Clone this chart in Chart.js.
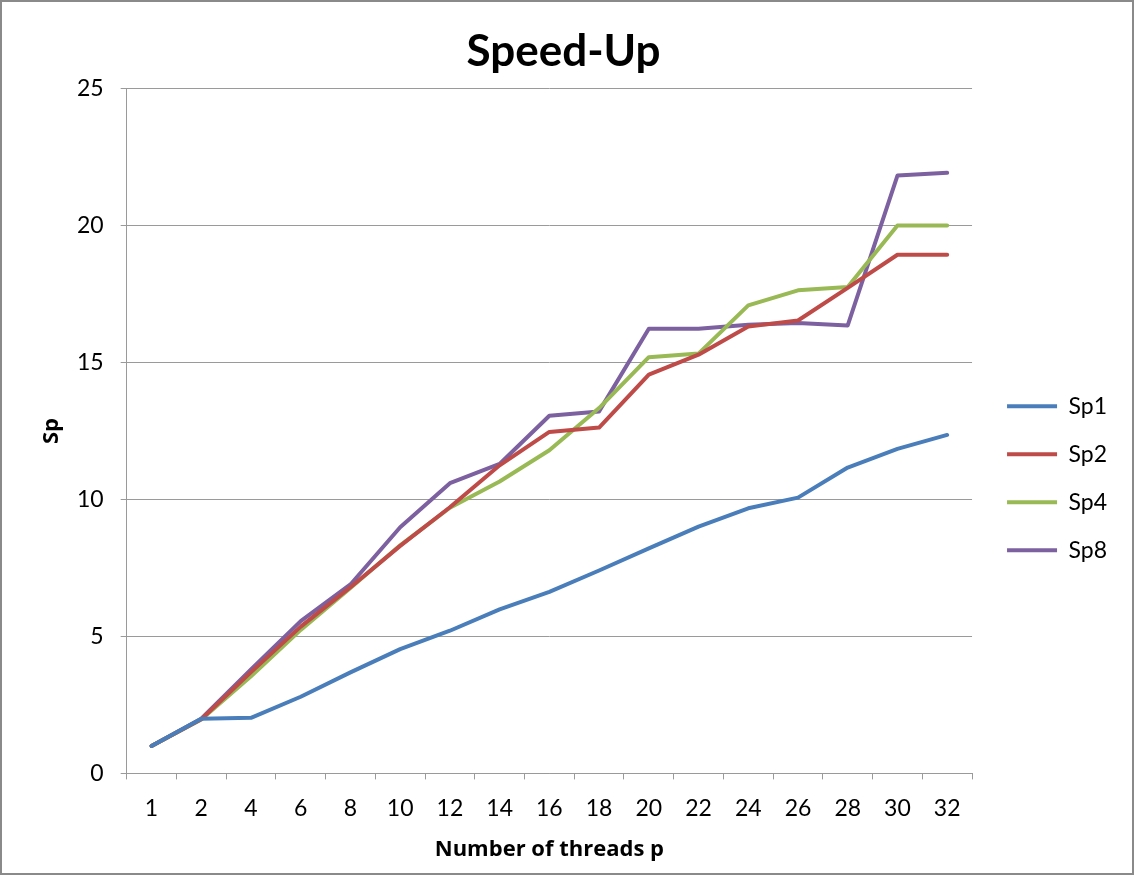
<!DOCTYPE html>
<html>
<head>
<meta charset="utf-8">
<script src="https://cdn.jsdelivr.net/npm/chart.js@4"></script>
<style>
  html, body { margin: 0; padding: 0; background: #fff; }
  #box { width: 1130px; height: 871px; border: 2px solid #8a8a8a; }
</style>
</head>
<body>
<div id="box"><canvas id="speedChart" width="1130" height="871"></canvas></div>
<script>
// スレッド数（横軸のカテゴリ）
const threads = ['1', '2', '4', '6', '8', '10', '12', '14', '16', '18', '20', '22', '24', '26', '28', '30', '32'];

// 各系列の速度向上率
const sp1 = [1, 2, 2.03, 2.8, 3.69, 4.54, 5.21, 5.99, 6.63, 7.41, 8.22, 9.01, 9.68, 10.07, 11.17, 11.85, 12.36];
const sp2 = [1, 1.98, 3.7, 5.36, 6.8, 8.31, 9.72, 11.25, 12.47, 12.63, 14.56, 15.29, 16.32, 16.54, 17.73, 18.94, 18.94];
const sp4 = [1, 1.97, 3.55, 5.24, 6.77, 8.33, 9.7, 10.66, 11.8, 13.34, 15.2, 15.33, 17.09, 17.64, 17.76, 20.01, 20.01];
const sp8 = [1, 2, 3.8, 5.56, 6.9, 8.99, 10.6, 11.3, 13.06, 13.22, 16.24, 16.24, 16.38, 16.45, 16.36, 21.83, 21.93];

// 縦軸の目盛り
const yTicks = [0, 5, 10, 15, 20, 25];

const seriesNames = ['Sp1', 'Sp2', 'Sp4', 'Sp8'];
const seriesColors = ['#4a7ebb', '#be4b48', '#98b954', '#7d60a0'];
const seriesData = [sp1, sp2, sp4, sp8];

const gridColor = '#9a9a9a';
const fontFamily = 'Lato, "Open Sans", sans-serif';
const titleFamily = '"Open Sans", Lato, sans-serif';

const datasets = seriesNames.map((name, i) => ({
    label: name,
    data: seriesData[i],
    borderColor: seriesColors[i],
    backgroundColor: seriesColors[i],
    borderWidth: 4,
    pointRadius: 0,
    tension: 0,
    borderJoinStyle: 'round',
    borderCapStyle: 'round',
    fill: false
}));

// 凡例をグラフ領域から少し離し、タイトルを全体の中央に寄せる
const layoutTweak = {
    id: 'layoutTweak',
    afterLayout(chart) {
        chart.legend.left += 10;
        chart.legend.right += 10;
        chart.titleBlock.right += 18;
    }
};

const ctx = document.getElementById('speedChart').getContext('2d');
new Chart(ctx, {
    type: 'line',
    data: { labels: threads, datasets: datasets },
    plugins: [layoutTweak],
    options: {
        responsive: false,
        animation: false,
        devicePixelRatio: 1,
        layout: { padding: { left: 0, right: 25, top: 0, bottom: 12 } },
        plugins: {
            tooltip: { enabled: false },
            title: {
                display: true,
                text: 'Speed-Up',
                color: '#000',
                font: { family: fontFamily, size: 44, weight: 'bold' },
                padding: { top: 23, bottom: 11 }
            },
            legend: {
                position: 'right',
                align: 'center',
                fullSize: false,
                // 見えないタイトルで凡例を少し下げる
                title: {
                    display: true,
                    text: ' ',
                    font: { size: 12 },
                    padding: 40
                },
                labels: {
                    boxWidth: 50,
                    boxHeight: 4,
                    padding: 25,
                    color: '#000',
                    font: { family: fontFamily, size: 23 },
                    generateLabels: function(chart) {
                        const items = Chart.defaults.plugins.legend.labels.generateLabels(chart);
                        items.forEach(item => {
                            item.lineWidth = 0;
                            item.fillStyle = item.strokeStyle;
                        });
                        return items;
                    }
                }
            }
        },
        scales: {
            x: {
                offset: true,
                grid: {
                    display: true,
                    offset: true,
                    drawOnChartArea: false,
                    drawTicks: true,
                    tickLength: 6,
                    color: gridColor
                },
                border: { display: true, color: gridColor, width: 1 },
                ticks: {
                    color: '#000',
                    padding: 15,
                    maxRotation: 0,
                    autoSkip: false,
                    font: { family: fontFamily, size: 23 }
                },
                title: {
                    display: true,
                    text: 'Number of threads p',
                    color: '#000',
                    font: { family: titleFamily, size: 22, weight: 'bold', lineHeight: 1 },
                    padding: { top: 2, bottom: 0 }
                }
            },
            y: {
                min: yTicks[0],
                max: yTicks[yTicks.length - 1],
                afterBuildTicks: function(axis) {
                    axis.ticks = yTicks.map(v => ({ value: v }));
                },
                grid: {
                    color: gridColor,
                    lineWidth: 1,
                    tickLength: 6
                },
                border: { display: true, color: gridColor, width: 1 },
                ticks: {
                    color: '#000',
                    padding: 17,
                    font: { family: fontFamily, size: 23 }
                },
                title: {
                    display: true,
                    text: 'Sp',
                    color: '#000',
                    font: { family: titleFamily, size: 22, weight: 'bold', lineHeight: 1 },
                    padding: { top: 39, bottom: -3 }
                }
            }
        }
    }
});
</script>
</body>
</html>
